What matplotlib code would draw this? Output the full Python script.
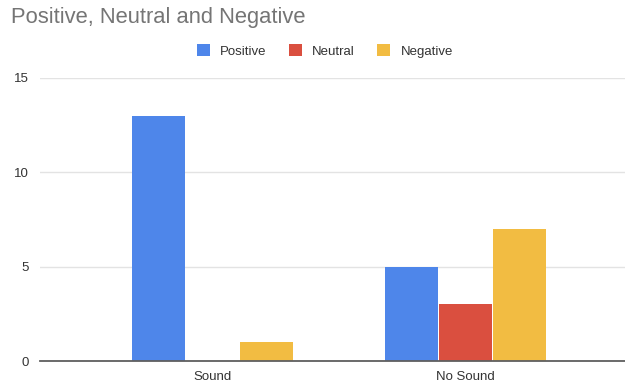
import matplotlib
matplotlib.use("Agg")
import matplotlib.pyplot as plt
import numpy as np

categories = ["Sound", "No Sound"]
series_names = ["Positive", "Neutral", "Negative"]
positive = [13, 5]
neutral = [0, 3]
negative = [1, 7]
y_ticks = [0, 5, 10, 15]

colors = ["#4e86ea", "#da4f3f", "#f2bc42"]

plt.rcParams["font.family"] = ["Liberation Sans", "DejaVu Sans"]

fig = plt.figure(figsize=(6.25, 3.83), dpi=100)
ax = fig.add_axes([40 / 625, 22 / 383, 585 / 625, 283 / 383])

x = np.arange(len(categories))
width = 0.208
step = 0.2134
values = [positive, neutral, negative]
handles = []
for i, (name, vals, c) in enumerate(zip(series_names, values, colors)):
    b = ax.bar(x + (i - 1) * step, vals, width=width, color=c, label=name,
               zorder=3, linewidth=0)
    handles.append(b)

ax.set_xlim(-0.682, 1.63)
ax.set_ylim(0, 15)
ax.set_yticks(y_ticks)
ax.set_yticklabels([str(t) for t in y_ticks])
ax.set_xticks(x)
ax.set_xticklabels(categories)

ax.grid(axis="y", color="#e3e3e3", linewidth=1, zorder=0)
for s in ["top", "right", "left"]:
    ax.spines[s].set_visible(False)
ax.spines["bottom"].set_color("#5f5f5f")
ax.spines["bottom"].set_linewidth(1.3)
ax.spines["bottom"].set_zorder(4)
ax.tick_params(axis="both", length=0, labelsize=9.5, colors="#333333")
ax.tick_params(axis="y", pad=8)
ax.tick_params(axis="x", pad=7)

fig.text(11 / 625, 1 - 18 / 383, "Positive, Neutral and Negative",
         fontsize=15.8, color="#757575", va="center", ha="left")

fig.legend(handles=handles, labels=series_names, loc="center",
           bbox_to_anchor=(325 / 625, 1 - 51 / 383), ncol=3, frameon=False,
           fontsize=9.5, handlelength=0.95, handleheight=0.95,
           handletextpad=0.8, columnspacing=1.7, labelcolor="#333333")

fig.savefig("out.png", dpi=100)
